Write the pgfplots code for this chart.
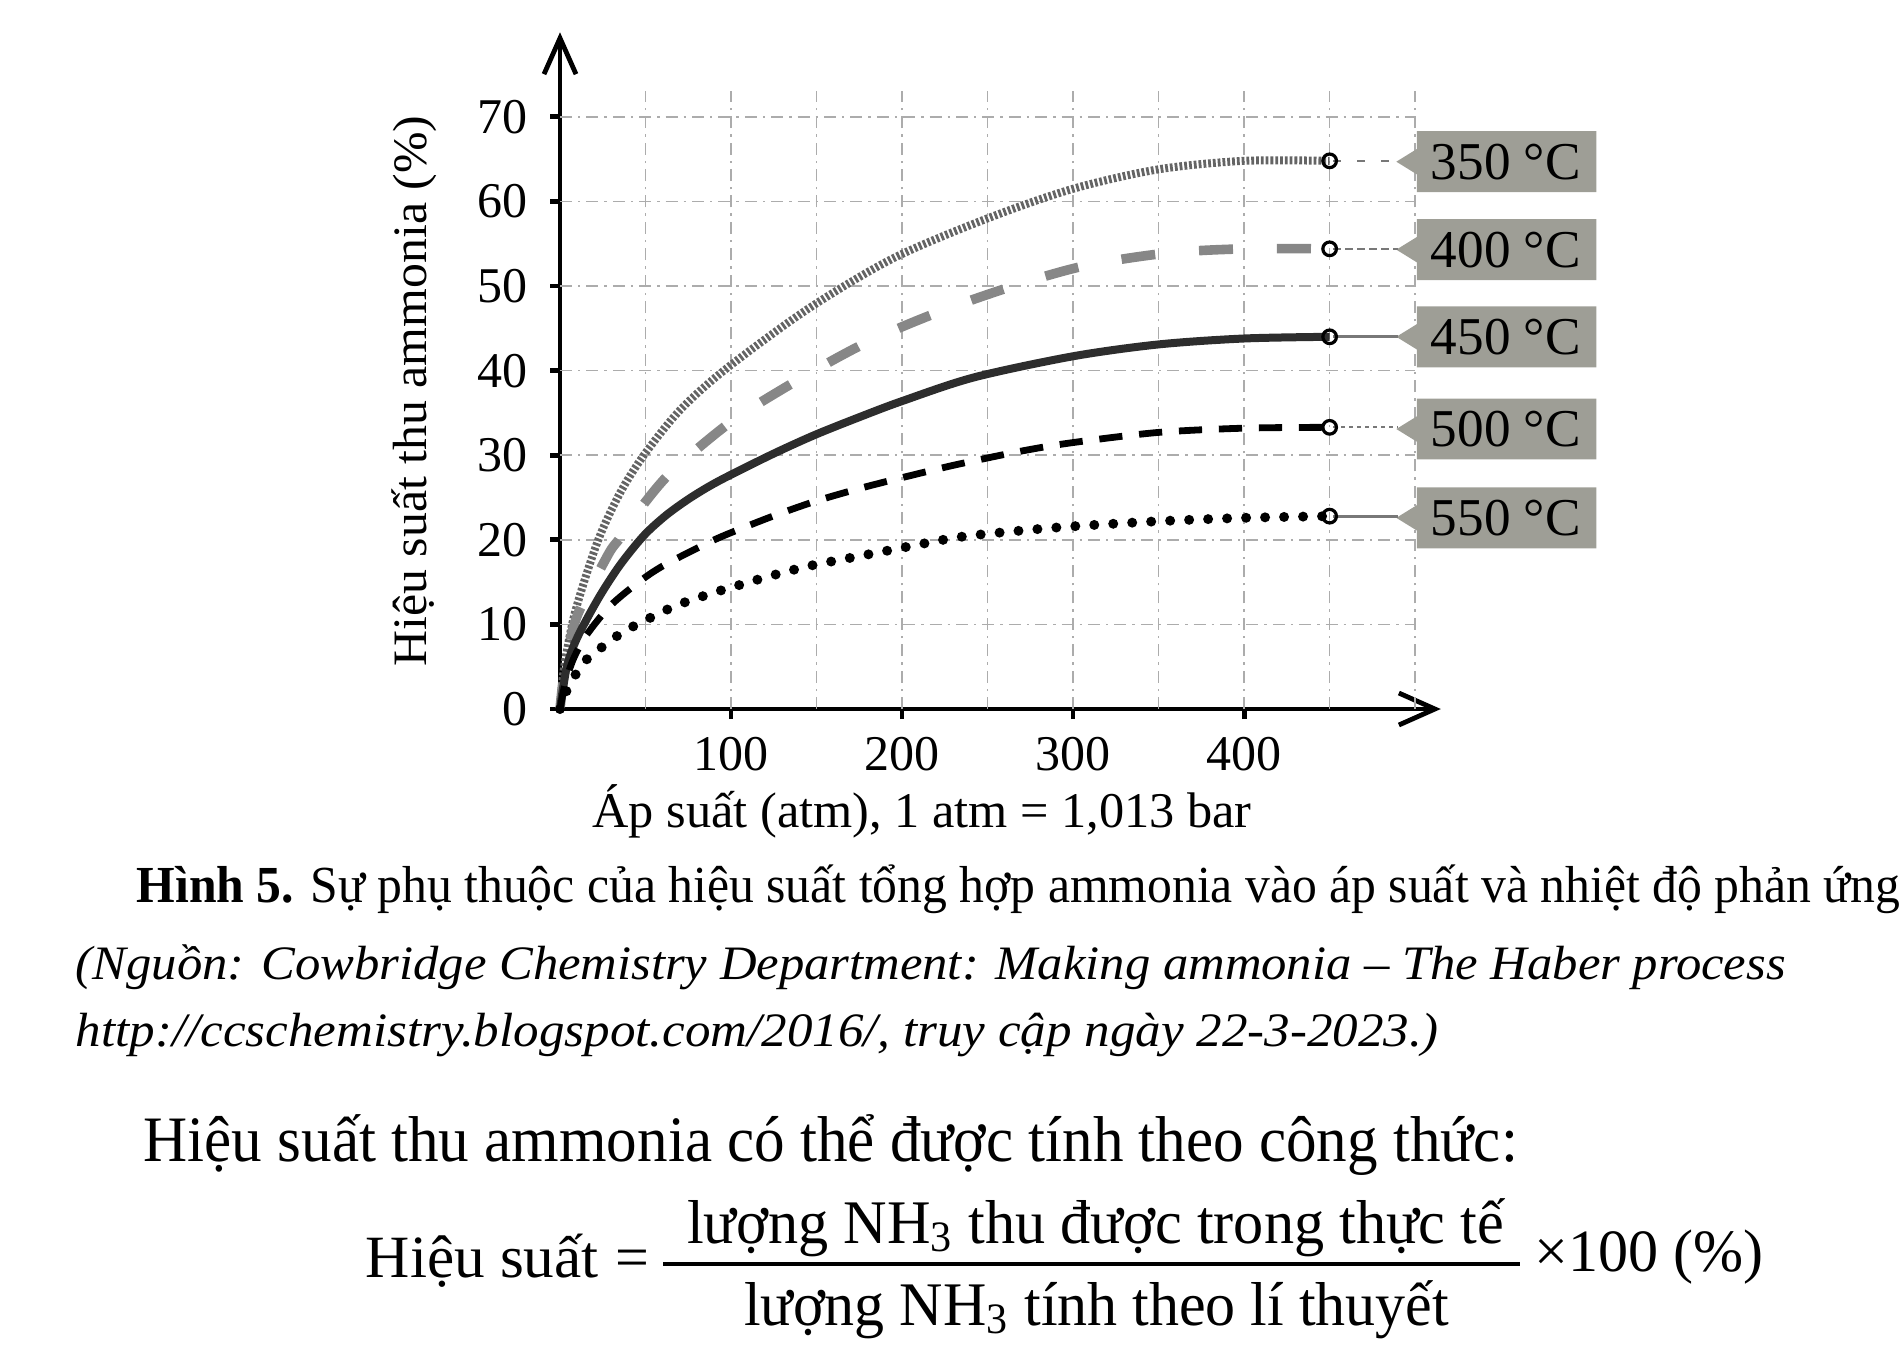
\documentclass[border=0pt]{standalone}
\usepackage{pgfplots}
\pgfplotsset{compat=1.18}
\usepackage{fontspec}
\setmainfont{Liberation Serif}
\usepackage{graphicx}
\usetikzlibrary{arrows.meta}

\definecolor{boxgray}{RGB}{158,158,150}
\definecolor{c350}{RGB}{100,100,100}
\definecolor{c400}{RGB}{135,135,135}
\definecolor{c450}{RGB}{45,45,45}
\definecolor{conn}{RGB}{120,120,120}

\newlength\fitlen
\newcommand\fitx[2]{\settowidth\fitlen{#2}\pgfmathsetmacro\fitf{(#1)/\fitlen}\scalebox{\fitf}[1]{#2}}

\tikzset{gridl/.style={gray!65, line width=0.4pt, dash pattern=on 3pt off 1.5pt on 0.6pt off 1.5pt}}

\begin{document}
\begin{tikzpicture}
\useasboundingbox (0,0) rectangle (476pt,-341pt);

\begin{axis}[
  at={(140pt,-177.25pt)}, anchor=origin,
  scale only axis, width=220.2pt, height=169.2pt,
  xmin=0, xmax=515, ymin=0, ymax=80,
  axis lines=left,
  every outer x axis line/.append style={line width=1.2pt, -{Straight Barb[length=9pt,width=8pt]}},
  every outer y axis line/.append style={line width=1.2pt, -{Straight Barb[length=9pt,width=8pt]}},
  every inner x axis line/.append style={line width=1.2pt, -{Straight Barb[length=9pt,width=8pt]}},
  every inner y axis line/.append style={line width=1.2pt, -{Straight Barb[length=9pt,width=8pt]}},
  clip=false,
  xtick={100,200,300,400}, ytick={0,10,20,30,40,50,60,70},
  tick align=outside, major tick length=2.5pt,
  tick style={line width=1.2pt, black},
  /pgf/number format/assume math mode=true,
  ticklabel style={font=\fontsize{12.5}{14}\selectfont},
  xticklabel style={yshift=-1pt},
  yticklabel style={xshift=-2pt},
]
% grid
\pgfplotsinvokeforeach{50,100,150,200,250,300,350,400,450,500}{\draw[gridl] (axis cs:#1,0) -- (axis cs:#1,73);}
\pgfplotsinvokeforeach{10,20,30,40,50,60,70}{\draw[gridl] (axis cs:0,#1) -- (axis cs:500,#1);}

% label boxes
\pgfplotsinvokeforeach{64.7,54.3,44.0,33.1,22.6}{%
  \fill[boxgray] (axis cs:489,#1) -- (axis cs:501,#1+1.5) -- (axis cs:501,#1+3.6) -- (axis cs:606,#1+3.6)
     -- (axis cs:606,#1-3.6) -- (axis cs:501,#1-3.6) -- (axis cs:501,#1-1.5) -- cycle;}

% connectors
\addplot[conn, line width=0.6pt, dash pattern=on 2pt off 4pt] coordinates {(452,64.8) (490,64.8)};
\addplot[conn, line width=0.5pt, dash pattern=on 2pt off 1pt] coordinates {(452,54.4) (490,54.4)};
\addplot[conn, line width=0.8pt] coordinates {(452,44.0) (490,44.0)};
\addplot[conn, line width=0.5pt, dash pattern=on 1pt off 1pt] coordinates {(452,33.3) (490,33.3)};
\addplot[conn, line width=0.8pt] coordinates {(452,22.8) (490,22.8)};

% 350 C
\addplot[c350, line width=2pt, dash pattern=on 0.7pt off 0.5pt, smooth] coordinates {
(0,0) (1,2.5) (3,5.7) (9,11.6) (22,19.8) (35,25.5) (49,30) (70,35.3) (97,40.2) (145,47.3) (195,53.3)
(250,58) (300,61.5) (350,63.8) (400,64.8) (450,64.8)};
% 400 C
\addplot[c400, line width=2.4pt, dash pattern=on 8.5pt off 11pt, dash phase=2pt, smooth] coordinates {
(0,0) (3,5) (10,11) (28,18.2) (35,20.2) (50,24.5) (67,28.4) (101,34.1) (140,39) (179,43.3)
(221,46.9) (265,50) (307,52.4) (355,53.9) (400,54.4) (450,54.4)};
% 450 C
\addplot[c450, line width=2pt, smooth] coordinates {
(0,0) (4,5) (10,8.4) (22.5,13.1) (35,17.0) (49,20.5) (62,22.9) (75,24.8) (87,26.3) (99,27.6)
(125,30.2) (149,32.4) (175,34.5) (200,36.4) (242,39.2) (300,41.7) (350,43.1) (400,43.8) (450,44.0)};
% 500 C
\addplot[black, line width=1.7pt, dash pattern=on 5.8pt off 4.2pt, smooth] coordinates {
(0,0) (3,3) (8,6) (15.7,8.8) (29.4,12.2) (46,15) (60,16.9) (83,19.3) (97,20.6) (124.5,22.8)
(150,24.6) (177.5,26.2) (205,27.6) (232,28.9) (270,30.5) (300,31.5) (350,32.7) (400,33.2) (450,33.3)};
% 550 C
\addplot[black, line width=2.5pt, line cap=round, dash pattern=on 0pt off 4.75pt, smooth] coordinates {
(0,0) (3,1.8) (9.8,4.3) (16.7,6.1) (26.5,7.6) (36,9) (47,10.2) (67.6,12.2) (89,13.7)
(100.6,14.4) (122.5,15.7) (145.5,16.9) (168,17.8) (191,18.7) (213.7,19.6) (236,20.4)
(270,21.1) (300,21.6) (350,22.2) (400,22.6) (450,22.8)};

% end markers
\addplot[only marks, mark=o, mark size=1.7pt, mark options={solid, fill=white, draw=black, line width=0.8pt}]
coordinates {(450,64.8) (450,54.4) (450,44.0) (450,33.3) (450,22.8)};

% labels
\node[font=\fontsize{13.3}{15}\selectfont] at (axis cs:553,64.7) {350 °C};
\node[font=\fontsize{13.3}{15}\selectfont] at (axis cs:553,54.3) {400 °C};
\node[font=\fontsize{13.3}{15}\selectfont] at (axis cs:553,44.0) {450 °C};
\node[font=\fontsize{13.3}{15}\selectfont] at (axis cs:553,33.1) {500 °C};
\node[font=\fontsize{13.3}{15}\selectfont] at (axis cs:553,22.6) {550 °C};
\end{axis}

\begin{scope}[x=0.25pt, y=-0.25pt, every node/.style={inner sep=0pt}]
% axis labels
\node[rotate=90, anchor=base] at (426,391) {\fitx{137.75pt}{\fontsize{12}{14}\selectfont Hiệu suất thu ammonia (\%)}};
\node[anchor=base] at (922,827) {\fitx{164.75pt}{\fontsize{12.5}{15}\selectfont Áp suất (atm), 1 atm = 1,013 bar}};
% caption
\node[anchor=base west] at (136,902) {\fitx{440.75pt}{\fontsize{13}{15}\selectfont\textbf{Hình 5.} Sự phụ thuộc của hiệu suất tổng hợp ammonia vào áp suất và nhiệt độ phản ứng}};
\node[anchor=base west] at (75,979) {\fitx{427.5pt}{\fontsize{12}{14}\selectfont\itshape (Nguồn: Cowbridge Chemistry Department: Making ammonia – The Haber process}};
\node[anchor=base west] at (75,1046) {\fitx{340.75pt}{\fontsize{12}{14}\selectfont\itshape http://ccschemistry.blogspot.com/2016/, truy cập ngày 22-3-2023.)}};
% formula text
\node[anchor=base west] at (143,1161) {\fitx{343.5pt}{\fontsize{16.2}{19}\selectfont Hiệu suất thu ammonia có thể được tính theo công thức:}};
\node[anchor=base west] at (365,1277) {\fitx{58.25pt}{\fontsize{15}{18}\selectfont Hiệu suất}};
\node[anchor=base] at (632,1277) {\fontsize{15}{18}\selectfont =};
\draw[line width=0.8pt] (663,1264) -- (1520,1264);
\node[anchor=base] at (1095.5,1243) {\fitx{204.25pt}{\fontsize{15.5}{18}\selectfont lượng NH\textsubscript{3} thu được trong thực tế}};
\node[anchor=base] at (1096.5,1325) {\fitx{176.25pt}{\fontsize{15.5}{18}\selectfont lượng NH\textsubscript{3} tính theo lí thuyết}};
\node[anchor=base west] at (1534,1271) {\fitx{57.25pt}{\fontsize{15}{18}\selectfont ×100 (\%)}};
\end{scope}
\end{tikzpicture}
\end{document}
